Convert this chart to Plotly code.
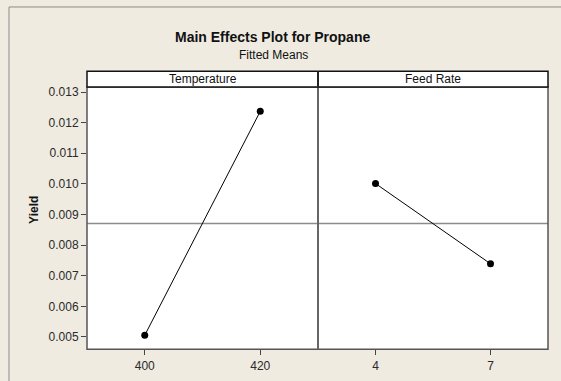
import plotly.graph_objects as go

# Data
temp_levels = [400, 420]
temp_means = [0.005055, 0.01237]
feed_levels = [4, 7]
feed_means = [0.01001, 0.00739]
panel_titles = ["Temperature", "Feed Rate"]
y_ticks = [0.005, 0.006, 0.007, 0.008, 0.009, 0.010, 0.011, 0.012, 0.013]

grand_mean = (sum(temp_means) + sum(feed_means)) / 4

W, H = 561, 381
BG = "#EFEBE1"
FONT = "Liberation Sans, Arial, sans-serif"

def px(x):
    return x / W

def py(y):
    return 1 - y / H

L, M, R = 87, 318, 548
TOP_STRIP, TOP, BOT = 69.5, 85.5, 349

fig = go.Figure()
fig.add_trace(go.Scatter(x=temp_levels, y=temp_means, mode="lines+markers",
                         line=dict(color="black", width=1),
                         marker=dict(color="black", size=7),
                         xaxis="x", yaxis="y", showlegend=False))
fig.add_trace(go.Scatter(x=feed_levels, y=feed_means, mode="lines+markers",
                         line=dict(color="black", width=1),
                         marker=dict(color="black", size=7),
                         xaxis="x2", yaxis="y", showlegend=False))

axis_common = dict(showgrid=False, zeroline=False, showline=False,
                   ticks="outside", ticklen=5, tickwidth=1, tickcolor="#444",
                   tickfont=dict(family=FONT, size=12, color="#2a2a2a"))

fig.update_layout(
    width=W, height=H,
    margin=dict(l=0, r=0, t=0, b=0),
    paper_bgcolor=BG, plot_bgcolor="white",
    xaxis=dict(domain=[px(L), px(M)], range=[390, 430],
               tickvals=temp_levels, anchor="y", **axis_common),
    xaxis2=dict(domain=[px(M), px(R)], range=[2.5, 8.5],
                tickvals=feed_levels, anchor="y", **axis_common),
    yaxis=dict(domain=[py(BOT), py(TOP)], range=[0.0046, 0.013163],
               tickvals=y_ticks, tickformat=".3f", anchor="x", **axis_common),
)

shapes = []
# outer frame (top and left edges visible)
shapes.append(dict(type="line", xref="paper", yref="paper",
                   x0=px(9), x1=1, y0=py(5), y1=py(5),
                   line=dict(color="#8a8a8a", width=1), layer="below"))
shapes.append(dict(type="line", xref="paper", yref="paper",
                   x0=px(9), x1=px(9), y0=0, y1=py(5),
                   line=dict(color="#8a8a8a", width=1), layer="below"))
# white background for right panel
shapes.append(dict(type="rect", xref="paper", yref="paper",
                   x0=px(M), x1=px(R), y0=py(BOT), y1=py(TOP),
                   fillcolor="white", line=dict(width=0), layer="below"))
# grand mean reference lines
for xr in ["x domain", "x2 domain"]:
    shapes.append(dict(type="line", xref=xr, yref="y", x0=0, x1=1,
                       y0=grand_mean, y1=grand_mean,
                       line=dict(color="#8c8c8c", width=1.5), layer="below"))
# plot borders
shapes.append(dict(type="rect", xref="paper", yref="paper",
                   x0=px(L), x1=px(R), y0=py(BOT), y1=py(TOP),
                   line=dict(color="#555555", width=1.5)))
shapes.append(dict(type="line", xref="paper", yref="paper",
                   x0=px(M), x1=px(M), y0=py(BOT), y1=py(TOP_STRIP),
                   line=dict(color="#666666", width=2)))
# strip
shapes.append(dict(type="rect", xref="paper", yref="paper",
                   x0=px(L), x1=px(R), y0=py(TOP), y1=py(TOP_STRIP),
                   fillcolor="white", line=dict(color="#111111", width=1.5)))
shapes.append(dict(type="line", xref="paper", yref="paper",
                   x0=px(M), x1=px(M), y0=py(TOP), y1=py(TOP_STRIP),
                   line=dict(color="#222222", width=2)))
fig.update_layout(shapes=shapes)

ann = []
for t, (a, b) in zip(panel_titles, [(L, M), (M, R)]):
    ann.append(dict(text=t, x=px((a + b) / 2), y=py((TOP + TOP_STRIP) / 2),
                    xref="paper", yref="paper", showarrow=False,
                    xanchor="center", yanchor="middle",
                    font=dict(family=FONT, size=12, color="#111")))
ann.append(dict(text="<b>Main Effects Plot for Propane</b>", x=px(272), y=py(35),
                xref="paper", yref="paper", showarrow=False,
                xanchor="center", yanchor="middle",
                font=dict(family=FONT, size=14, color="#111")))
ann.append(dict(text="Fitted Means", x=px(273), y=py(53),
                xref="paper", yref="paper", showarrow=False,
                xanchor="center", yanchor="middle",
                font=dict(family=FONT, size=12, color="#111")))
ann.append(dict(text="<b>Yield</b>", x=px(34), y=py(209), textangle=-90,
                xref="paper", yref="paper", showarrow=False,
                xanchor="center", yanchor="middle",
                font=dict(family=FONT, size=12, color="#111")))
fig.update_layout(annotations=ann)

fig.write_html("out.html", config={"displayModeBar": False},
               post_script=("document.documentElement.style.overflow='hidden';"
                            "document.body.style.margin='0';"
                            "document.body.style.overflow='hidden';"))
